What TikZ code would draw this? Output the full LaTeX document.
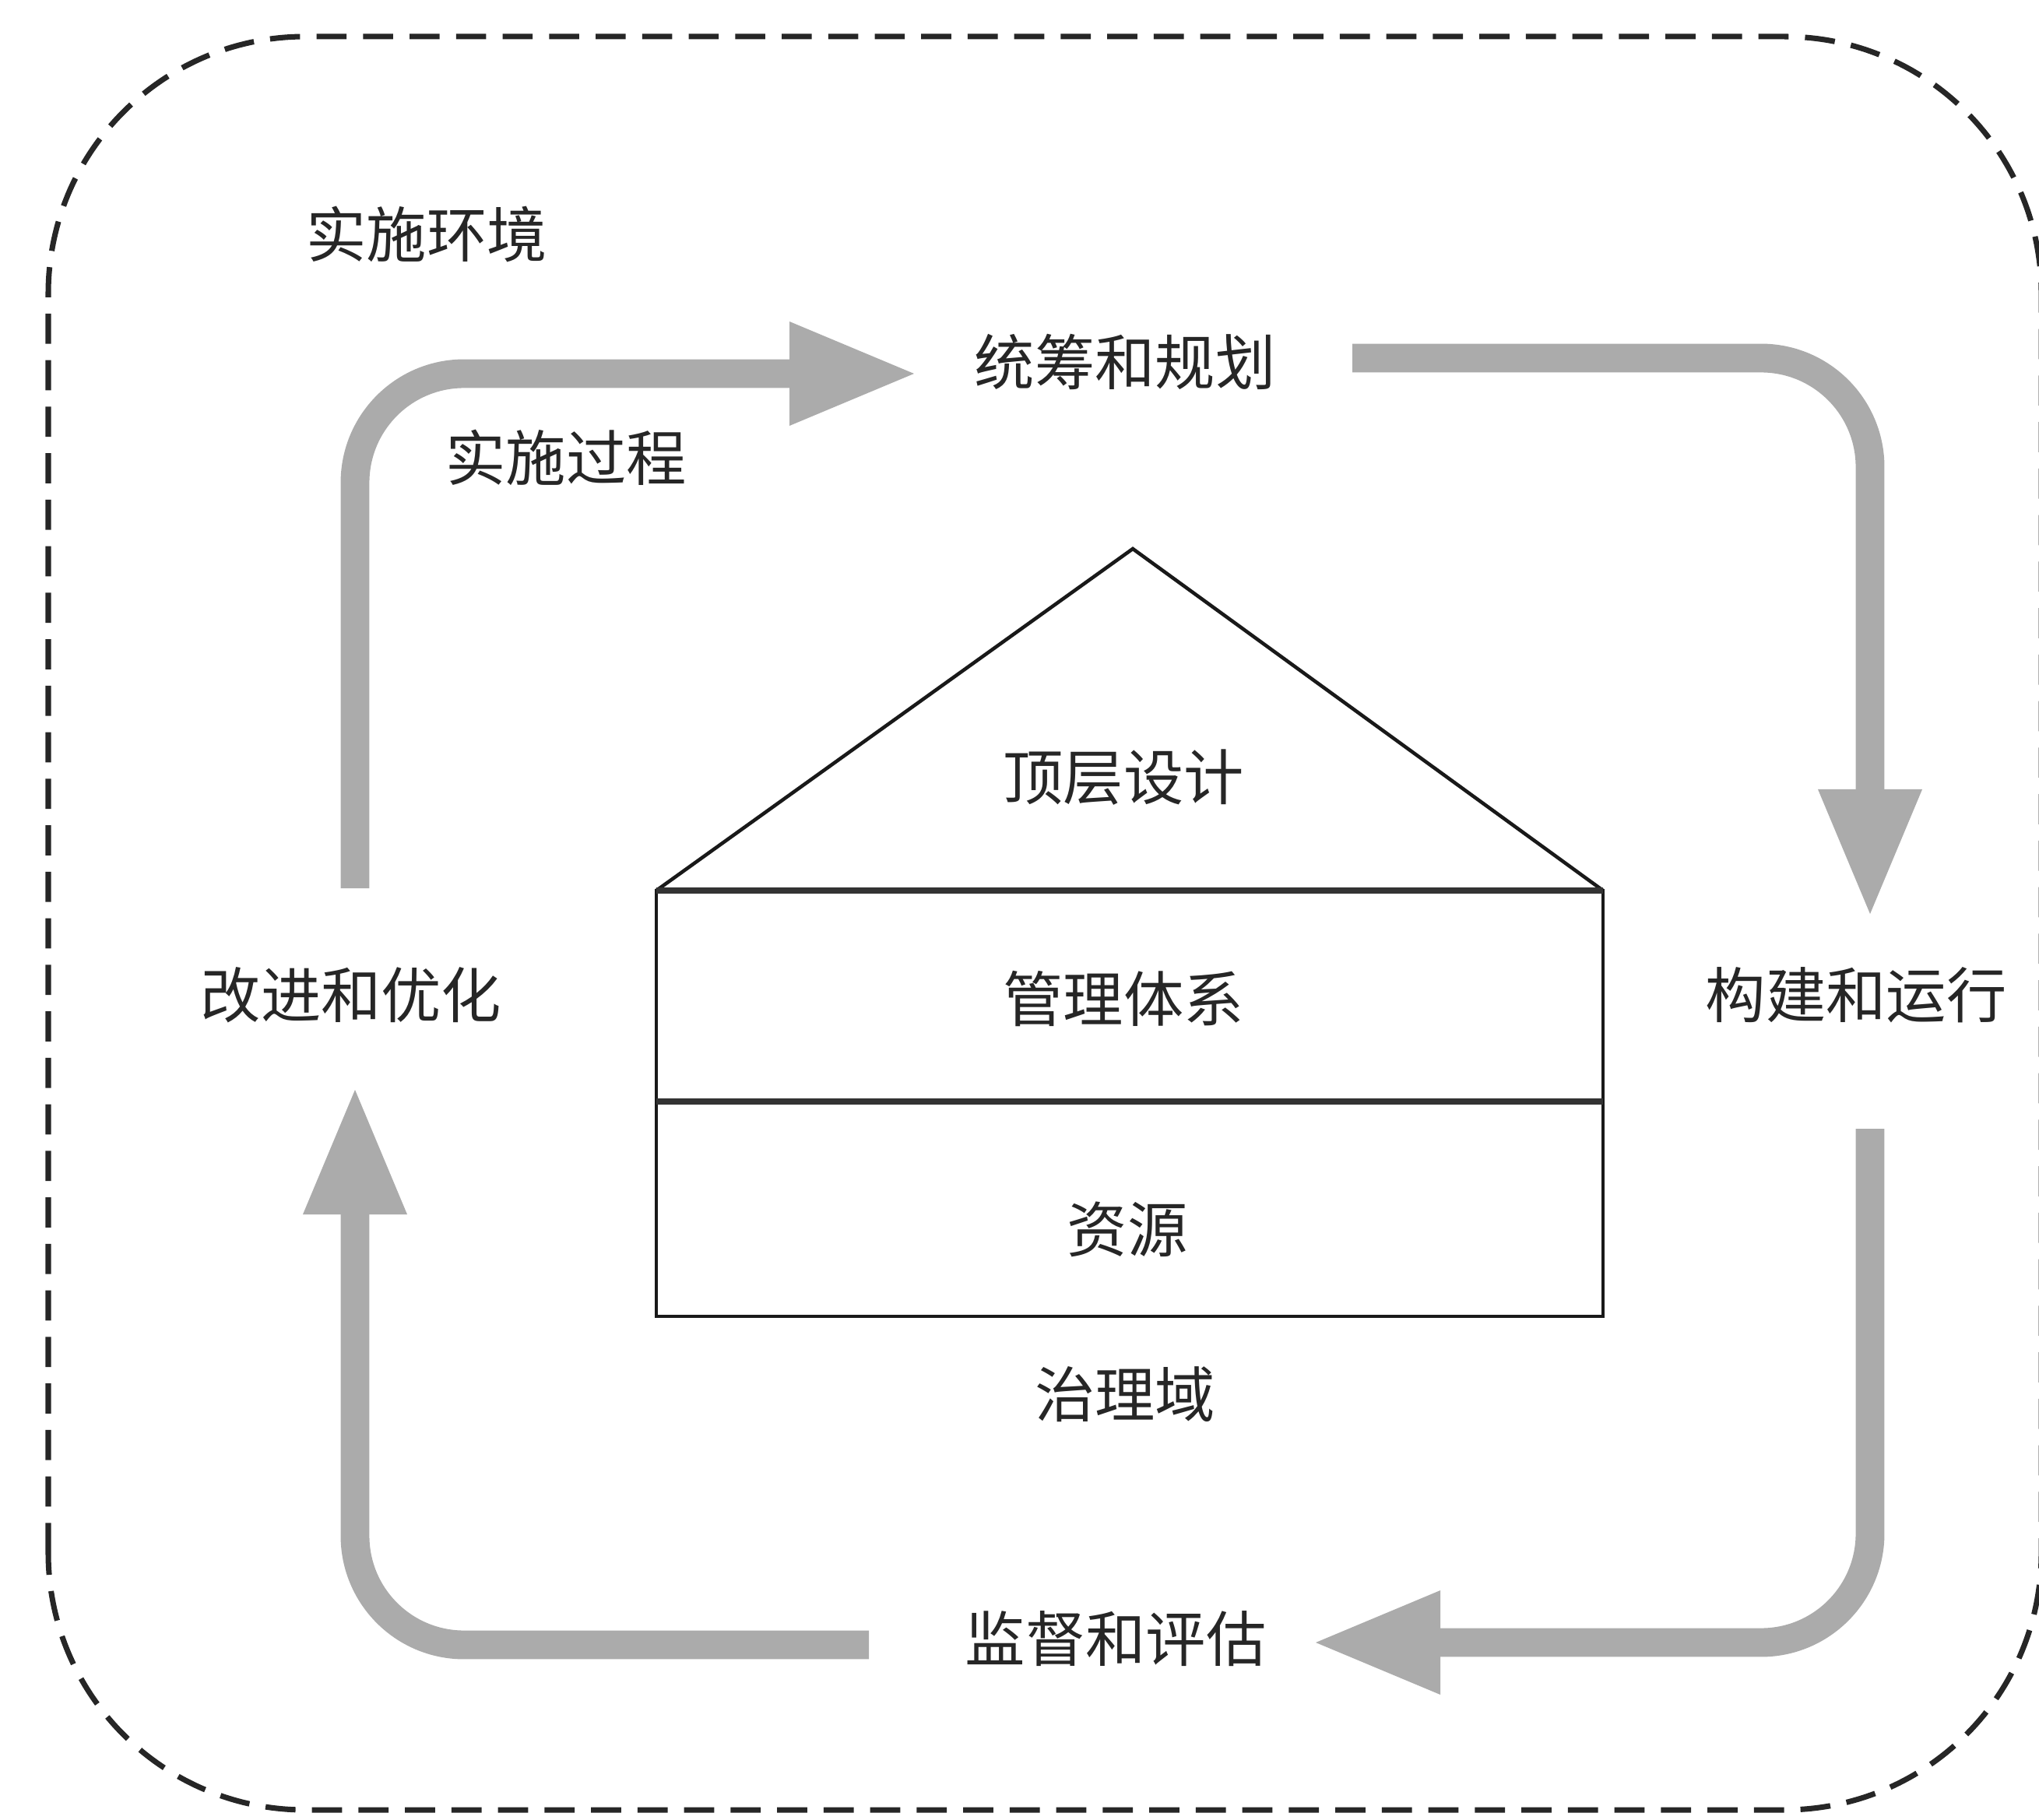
\documentclass[tikz,border=0pt]{standalone}
\usepackage{fontspec}
\newfontfamily\cjk{Noto Sans CJK SC}
\usetikzlibrary{arrows.meta}

\begin{document}
\begin{tikzpicture}[
    lbl/.style={font=\cjk\fontsize{22pt}{26pt}\selectfont, text=black!85, inner sep=0pt},
    flow/.style={draw=black!33, line width=10.5pt, rounded corners=1.4cm,
      -{Triangle[length=16mm,width=13.4mm,line width=0pt]}},
    wall/.style={line width=1.3pt, black!90}
  ]
  \useasboundingbox (0,0) rectangle (26.19,23.37);
  % environment border
  \draw[line width=2pt, dash pattern=on 11pt off 6pt, black!85, rounded corners=3.3cm]
    (0.62,0.12) rectangle (26.22,22.90);

  % labels
  \node[lbl] (env) at (5.48,20.36) {实施环境};
  \node[lbl] (proc) at (7.27,17.49) {实施过程};
  \node[lbl] (plan) at (14.45,18.72) {统筹和规划};
  \node[lbl] (build) at (23.84,10.59) {构建和运行};
  \node[lbl] (monitor) at (14.33,2.32) {监督和评估};
  \node[lbl] (improve) at (4.51,10.59) {改进和优化};

  % house
  \coordinate (hl) at (8.43,11.93);
  \coordinate (hr) at (20.59,11.93);
  \coordinate (apex) at (14.55,16.32);
  \coordinate (bl) at (8.43,6.46);
  \coordinate (ml) at (8.43,9.22);
  \coordinate (mr) at (20.59,9.22);
  \draw[wall] (hl) -- (apex) -- (hr);
  \draw[wall] (bl) rectangle (hr);
  \draw[wall, line width=2pt, black!80] (hl) -- (hr);
  \draw[wall, line width=2pt, black!80] (ml) -- (mr);
  \node[lbl] (top) at (14.43,13.38) {顶层设计};
  \node[lbl] (mgmt) at (14.43,10.54) {管理体系};
  \node[lbl] (res) at (14.48,7.58) {资源};
  \node[lbl] (domain) at (14.45,5.46) {治理域};

  % process cycle
  \coordinate (imp-out) at (4.56,11.96);
  \coordinate (plan-in) at (11.74,18.57);
  \coordinate (plan-out) at (17.37,18.77);
  \coordinate (build-in) at (24.02,11.63);
  \coordinate (build-out) at (24.02,8.87);
  \coordinate (mon-in) at (16.90,2.27);
  \coordinate (mon-out) at (11.16,2.24);
  \coordinate (imp-in) at (4.56,9.37);
  \draw[flow] (imp-out) |- (plan-in);
  \draw[flow] (plan-out) -| (build-in);
  \draw[flow] (build-out) |- (mon-in);
  \draw[flow] (mon-out) -| (imp-in);
\end{tikzpicture}
\end{document}
